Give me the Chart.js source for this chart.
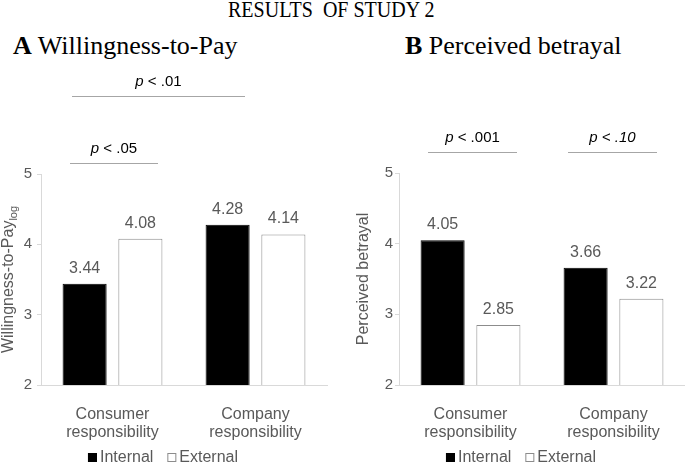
<!DOCTYPE html>
<html>
<head>
<meta charset="utf-8">
<script src="https://cdn.jsdelivr.net/npm/chart.js@4/dist/chart.umd.min.js"></script>
<style>
  html, body { margin: 0; padding: 0; background: #fff; }
  #page { position: relative; width: 685px; height: 463px; overflow: hidden; background: #fff; }
  .head { position: absolute; font-family: "Liberation Serif", "Times New Roman", serif; color: #000; white-space: pre; }
  #mainTitle { left: 228px; top: -2px; font-size: 23px; line-height: 23px; transform: scaleX(0.87); transform-origin: left top; }
  .panelTitle { top: 33px; font-size: 26px; line-height: 26px; }
  #titleA { left: 13px; }
  #titleB { left: 405px; }
  canvas { position: absolute; top: 0; }
  #chartA { left: 0; }
  #chartB { left: 342px; }
</style>
</head>
<body>
<div id="page">
  <div id="mainTitle" class="head">RESULTS  OF STUDY 2</div>
  <div id="titleA" class="head panelTitle"><b>A</b> Willingness-to-Pay</div>
  <div id="titleB" class="head panelTitle"><b>B</b> Perceived betrayal</div>
  <canvas id="chartA" width="342" height="463"></canvas>
  <canvas id="chartB" width="343" height="463"></canvas>
</div>
<script>
// categories and series
const categories = [['Consumer', 'responsibility'], ['Company', 'responsibility']];
const seriesNames = ['Internal', 'External'];

// Study 2, panel A: willingness-to-pay (log)
const wtpInternal = [3.44, 4.28];
const wtpExternal = [4.08, 4.14];

// Study 2, panel B: perceived betrayal
const betrayalInternal = [4.05, 3.66];
const betrayalExternal = [2.85, 3.22];

// y axis range
const yMin = 2;
const yMax = 5;

const GRAY_TEXT = '#595959';
const AXIS_GRAY = '#d9d9d9';
const SANS = '"Liberation Sans", Arial, sans-serif';

// draws value labels, y title (with subscript), p-value brackets and legend
const decorPlugin = {
    id: 'decor',
    afterDatasetsDraw(chart, args, opts) {
        const ctx = chart.ctx;
        const area = chart.chartArea;
        ctx.save();

        // value labels above the bars
        ctx.fillStyle = GRAY_TEXT;
        ctx.font = '16px ' + SANS;
        ctx.textAlign = 'center';
        ctx.textBaseline = 'alphabetic';
        chart.data.datasets.forEach((ds, i) => {
            chart.getDatasetMeta(i).data.forEach((bar, j) => {
                ctx.fillText(ds.data[j].toFixed(2), bar.x, bar.y - 11);
            });
        });

        // rotated y axis title
        const midY = (area.top + area.bottom) / 2;
        ctx.save();
        ctx.translate(opts.yTitleX, midY);
        ctx.rotate(-Math.PI / 2);
        ctx.font = '16px ' + SANS;
        const wMain = ctx.measureText(opts.yTitle).width;
        let wSub = 0;
        if (opts.ySub) {
            ctx.font = '11px ' + SANS;
            wSub = ctx.measureText(opts.ySub).width;
        }
        const start = -(wMain + wSub) / 2;
        ctx.textAlign = 'left';
        ctx.font = '16px ' + SANS;
        ctx.fillText(opts.yTitle, start, 0);
        if (opts.ySub) {
            ctx.font = '11px ' + SANS;
            ctx.fillText(opts.ySub, start + wMain, 4);
        }
        ctx.restore();

        // significance brackets
        opts.notes.forEach(n => {
            ctx.strokeStyle = '#a6a6a6';
            ctx.lineWidth = 1;
            ctx.beginPath();
            ctx.moveTo(n.x1, n.y + 0.5);
            ctx.lineTo(n.x2, n.y + 0.5);
            ctx.stroke();

            ctx.fillStyle = '#000';
            const fIt = 'italic 15px ' + SANS;
            const fUp = (n.italicAll ? 'italic ' : '') + '15px ' + SANS;
            ctx.font = fIt;
            const wp = ctx.measureText('p').width;
            ctx.font = fUp;
            const wr = ctx.measureText(n.rest).width;
            const cx = (n.x1 + n.x2) / 2;
            const x0 = cx - (wp + wr) / 2;
            ctx.textAlign = 'left';
            ctx.font = fIt;
            ctx.fillText('p', x0, n.y - 10);
            ctx.font = fUp;
            ctx.fillText(n.rest, x0 + wp, n.y - 10);
        });

        // legend
        ctx.font = '16px ' + SANS;
        const items = chart.data.datasets.map(ds => ({
            ds: ds, w: 9 + 3 + ctx.measureText(ds.label).width
        }));
        const gap = 14;
        const total = items.reduce((s, it) => s + it.w, 0) + gap * (items.length - 1);
        let x = (area.left + area.right) / 2 + opts.legendDx - total / 2;
        const base = 462;
        items.forEach(it => {
            ctx.fillStyle = it.ds.backgroundColor;
            ctx.fillRect(x, base - 9, 9, 9);
            ctx.strokeStyle = it.ds.borderColor;
            ctx.lineWidth = 1;
            ctx.strokeRect(x + 0.5, base - 8.5, 8, 8);
            ctx.fillStyle = GRAY_TEXT;
            ctx.textAlign = 'left';
            ctx.fillText(it.ds.label, x + 12, base);
            x += it.w + gap;
        });

        ctx.restore();
    }
};

function makePanel(canvasId, internal, external, cfg) {
    return new Chart(document.getElementById(canvasId), {
        type: 'bar',
        data: {
            labels: categories,
            datasets: [{
                label: seriesNames[0],
                data: internal,
                backgroundColor: '#000000',
                borderColor: '#000000',
                borderWidth: 1
            }, {
                label: seriesNames[1],
                data: external,
                backgroundColor: '#ffffff',
                borderColor: '#8c8c8c',
                borderWidth: 1
            }]
        },
        options: {
            responsive: false,
            animation: false,
            devicePixelRatio: 1,
            categoryPercentage: 0.78,
            barPercentage: 0.79,
            layout: { padding: { top: cfg.top, right: cfg.right, left: 0, bottom: 0 } },
            plugins: {
                legend: { display: false },
                tooltip: { enabled: false },
                decor: {
                    yTitle: cfg.yTitle,
                    ySub: cfg.ySub,
                    yTitleX: cfg.yTitleX,
                    notes: cfg.notes,
                    legendDx: -21
                }
            },
            scales: {
                x: {
                    grid: { display: false },
                    border: { display: true, color: AXIS_GRAY, width: 1 },
                    ticks: {
                        color: GRAY_TEXT,
                        padding: 12,
                        maxRotation: 0,
                        autoSkip: false,
                        font: { family: SANS, size: 16, lineHeight: 1.15 }
                    },
                    afterFit: s => { s.height = 463 - cfg.bottom; }
                },
                y: {
                    min: yMin,
                    max: yMax,
                    grid: {
                        display: true,
                        drawOnChartArea: false,
                        drawTicks: true,
                        tickLength: 4,
                        color: AXIS_GRAY
                    },
                    border: { display: true, color: AXIS_GRAY, width: 1 },
                    ticks: {
                        stepSize: 1,
                        color: GRAY_TEXT,
                        padding: cfg.tickPad,
                        font: { family: SANS, size: 15 }
                    },
                    afterFit: s => { s.width = cfg.yWidth; }
                }
            }
        },
        plugins: [decorPlugin]
    });
}

makePanel('chartA', wtpInternal, wtpExternal, {
    top: 174, bottom: 385, right: 15, yWidth: 41, tickPad: 5,
    yTitle: 'Willingness-to-Pay', ySub: 'log', yTitleX: 13,
    notes: [
        { rest: ' < .01', x1: 72, x2: 245, y: 96 },
        { rest: ' < .05', x1: 70, x2: 158, y: 163 }
    ]
});

makePanel('chartB', betrayalInternal, betrayalExternal, {
    top: 173, bottom: 385, right: 0, yWidth: 57, tickPad: 2,
    yTitle: 'Perceived betrayal', ySub: '', yTitleX: 26,
    notes: [
        { rest: ' < .001', x1: 428 - 342, x2: 517 - 342, y: 152 },
        { rest: ' < .10', x1: 568 - 342, x2: 657 - 342, y: 152, italicAll: true }
    ]
});
</script>
</body>
</html>
